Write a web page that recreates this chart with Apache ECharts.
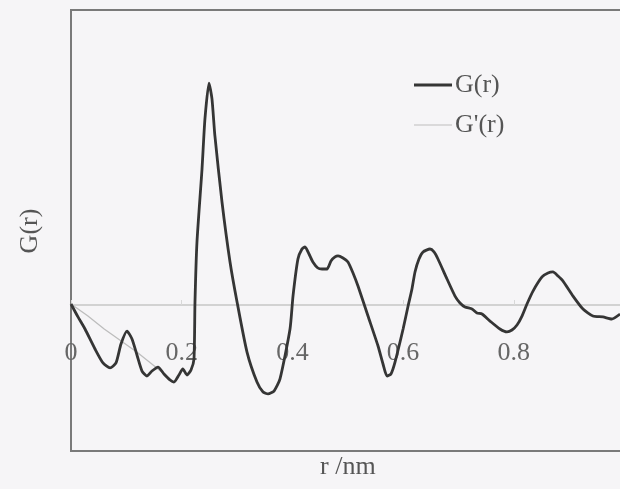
<!DOCTYPE html>
<html><head><meta charset="utf-8">
<script src="https://cdn.jsdelivr.net/npm/echarts@6/dist/echarts.min.js"></script>
<style>html,body{margin:0;padding:0;background:#f6f5f7;}#c{width:620px;height:489px;}</style>
</head><body><div id="c"></div>
<script>
// G(r): r (nm) and G(r) (arbitrary units)
const rG = [0,0.0126,0.0253,0.0434,0.0578,0.0705,0.0813,0.0903,0.1012,0.1102,0.1192,0.1283,0.1373,0.1463,0.1572,0.168,0.1789,0.186,0.195,0.202,0.2096,0.2168,0.2222,0.224,0.2276,0.2367,0.242,0.2493,0.2547,0.26,0.2728,0.2873,0.3,0.318,0.336,0.347,0.356,0.3668,0.3776,0.3957,0.4011,0.41,0.4173,0.4228,0.43,0.437,0.446,0.4535,0.4625,0.4697,0.477,0.4824,0.4914,0.5004,0.5095,0.5185,0.5366,0.5547,0.5637,0.571,0.578,0.5854,0.6,0.609,0.616,0.6215,0.6287,0.636,0.6486,0.6558,0.663,0.6793,0.6938,0.7028,0.7118,0.7245,0.7335,0.7425,0.757,0.775,0.7877,0.7967,0.8058,0.8148,0.8238,0.8347,0.851,0.8618,0.8708,0.8799,0.8889,0.907,0.925,0.943,0.961,0.977,0.992];
const gG = [0,-0.088,-0.17,-0.306,-0.401,-0.435,-0.401,-0.272,-0.184,-0.238,-0.347,-0.456,-0.49,-0.456,-0.429,-0.476,-0.517,-0.531,-0.483,-0.442,-0.483,-0.449,-0.374,0.014,0.422,0.918,1.259,1.503,1.395,1.143,0.694,0.286,0.014,-0.327,-0.531,-0.599,-0.612,-0.592,-0.51,-0.17,0.054,0.306,0.374,0.388,0.34,0.286,0.245,0.238,0.238,0.293,0.32,0.327,0.313,0.286,0.211,0.122,-0.082,-0.286,-0.408,-0.49,-0.476,-0.395,-0.17,-0.014,0.102,0.218,0.306,0.354,0.374,0.354,0.306,0.17,0.054,0.007,-0.02,-0.034,-0.061,-0.068,-0.116,-0.17,-0.19,-0.177,-0.143,-0.082,0,0.088,0.184,0.211,0.218,0.19,0.156,0.054,-0.034,-0.082,-0.088,-0.102,-0.068];
// G'(r): low-r part, drawn under G(r) where they coincide
const rGp = [0,0.03,0.06,0.09,0.12,0.15,0.186];
const gGp = [0,-0.08,-0.17,-0.25,-0.33,-0.42,-0.531];
const xTicks = [0,0.2,0.4,0.6,0.8];
const seriesNames = ['G(r)', "G'(r)"];

const font = '"Liberation Serif", "Times New Roman", serif';
const chart = echarts.init(document.getElementById('c'), null, {renderer:'canvas'});
chart.setOption({
  backgroundColor: '#f6f5f7',
  animation: false,
  grid: {left: 71, top: 10, width: 553.5, height: 441, outerBoundsMode: 'none', containLabel: false,
    show: true, borderColor: '#7a7a7a', borderWidth: 2, backgroundColor: 'transparent'},
  xAxis: {
    type: 'value', min: 0, max: 1.0, interval: 0.2,
    offset: -146,
    axisLine: {onZero: false, lineStyle: {color: '#c6c6c6', width: 1.5}},
    axisTick: {show: true, inside: true, length: 5, lineStyle: {color: '#d8d8d8'}},
    splitLine: {show: false},
    axisLabel: {margin: 35, fontFamily: font, fontSize: 26, color: '#666',
      showMaxLabel: false,
      formatter: v => xTicks.some(t => Math.abs(t - v) < 1e-9) ? String(+v.toFixed(1)) : ''}
  },
  yAxis: {
    type: 'value', min: -1, max: 2,
    axisLine: {show: false}, axisTick: {show: false}, axisLabel: {show: false}, splitLine: {show: false}
  },
  legend: {
    orient: 'vertical', left: 409, top: 67, itemWidth: 38, itemHeight: 14, itemGap: 14,
    textStyle: {fontFamily: font, fontSize: 26, color: '#555', padding: [0,0,0,-2]},
    data: [
      {name: seriesNames[0], icon: 'path://M0 0H38V3H0Z'},
      {name: seriesNames[1], icon: 'path://M0 0H38V1H0Z'}
    ]
  },
  graphic: [
    {type: 'text', left: 320, top: 454, style: {text: 'r /nm', font: '26px ' + font, fill: '#555'}},
    {type: 'text', x: 30, y: 231, rotation: Math.PI/2, style: {text: 'G(r)', font: '26px ' + font, fill: '#555', align: 'center', verticalAlign: 'middle'}}
  ],
  series: [
    {name: seriesNames[1], type: 'line', symbol: 'none', z: 2,
      lineStyle: {color: '#bdbdbd', width: 1.3}, itemStyle: {color: '#bdbdbd'},
      data: rGp.map((r,i) => [r, gGp[i]])},
    {name: seriesNames[0], type: 'line', symbol: 'none', z: 3, smooth: 0.2,
      lineStyle: {color: '#353535', width: 2.8}, itemStyle: {color: '#353535'},
      data: rG.map((r,i) => [r, gG[i]])}
  ]
});
</script></body></html>
